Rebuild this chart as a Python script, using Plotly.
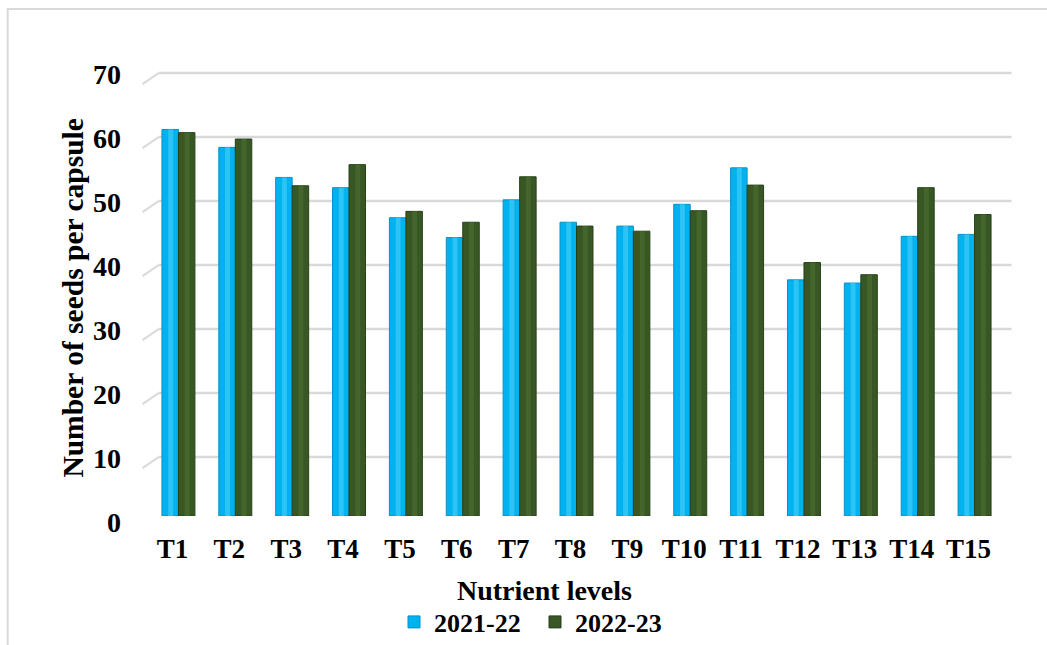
import plotly.graph_objects as go

# Nutrient treatments and seeds per capsule for the two seasons
treatments = ["T1", "T2", "T3", "T4", "T5", "T6", "T7", "T8",
              "T9", "T10", "T11", "T12", "T13", "T14", "T15"]
seeds_2021_22 = [60.4, 57.6, 52.9, 51.3, 46.6, 43.5, 49.4, 45.9,
                 45.3, 48.7, 54.4, 36.9, 36.4, 43.7, 44.0]
seeds_2022_23 = [59.9, 58.9, 51.6, 54.9, 47.6, 45.9, 53.0, 45.3,
                 44.5, 47.7, 51.7, 39.6, 37.7, 51.3, 47.1]
y_ticks = [0, 10, 20, 30, 40, 50, 60, 70]

BLUE = "#00B2EF"
BLUE_EDGE = "#0A8FC6"
BLUE_LIGHT = "#2CC3F5"
GREEN = "#385724"
GREEN_EDGE = "#26401A"
GREEN_LIGHT = "#44662D"
GRID = "#d9d9d9"
FONT = "Liberation Serif, Times New Roman, serif"

W, H = 1047, 645
# plot area in pixels: category slots span x 149.5..1003.5, value 0 at y=516
L, R, T, B = 149.5, 43.5, 68, 129
pw, ph = W - L - R, H - T - B


def px_x(x):
    return (x - L) / pw


def px_y(y):
    return (H - B - y) / ph


BW = 0.29  # width of one column, in category units

fig = go.Figure()

# main columns
fig.add_trace(go.Bar(
    x=treatments, y=seeds_2021_22, name="2021-22", offset=-BW, width=BW,
    marker=dict(color=BLUE, line=dict(color=BLUE_EDGE, width=1)),
))
fig.add_trace(go.Bar(
    x=treatments, y=seeds_2022_23, name="2022-23", offset=0, width=BW,
    marker=dict(color=GREEN, line=dict(color=GREEN_EDGE, width=1)),
))
# soft highlight down each column for a rounded look
fig.add_trace(go.Bar(
    x=treatments, y=seeds_2021_22, offset=-BW * 0.62, width=BW * 0.3,
    marker=dict(color=BLUE_LIGHT, line=dict(width=0)), showlegend=False,
    hoverinfo="skip",
))
fig.add_trace(go.Bar(
    x=treatments, y=seeds_2022_23, offset=BW * 0.38, width=BW * 0.3,
    marker=dict(color=GREEN_LIGHT, line=dict(width=0)), showlegend=False,
    hoverinfo="skip",
))

# back-wall gridlines and the perspective strokes toward the value labels
back_shift = 0.8   # back wall sits slightly above the front plane
depth = 1.72       # vertical drop from back wall to front edge
for v in y_ticks:
    fig.add_shape(type="line", xref="paper", yref="y",
                  x0=px_x(158), x1=px_x(1012), y0=v - back_shift, y1=v - back_shift,
                  line=dict(color=GRID, width=2.5), layer="below")
    fig.add_shape(type="line", xref="paper", yref="y",
                  x0=px_x(142), x1=px_x(158),
                  y0=v - back_shift - depth, y1=v - back_shift,
                  line=dict(color=GRID, width=2), layer="below")

# outer chart border
fig.add_shape(type="rect", xref="paper", yref="paper",
              x0=px_x(7), x1=px_x(1070), y0=px_y(670), y1=px_y(9),
              line=dict(color=GRID, width=2), layer="below")

# axis titles
fig.add_annotation(text="<b>Nutrient levels</b>", xref="paper", yref="paper",
                   x=px_x(544), y=px_y(590), xanchor="center", yanchor="middle",
                   showarrow=False,
                   font=dict(size=28, family=FONT, color="black"))
fig.add_annotation(text="<b>Number of seeds per capsule</b>", xref="paper", yref="paper",
                   x=px_x(72), y=px_y(298), xanchor="center", yanchor="middle",
                   showarrow=False, textangle=-90,
                   font=dict(size=29.5, family=FONT, color="black"))

fig.update_layout(
    width=W, height=H,
    margin=dict(l=L, r=R, t=T, b=B, autoexpand=False),
    paper_bgcolor="white", plot_bgcolor="white",
    barmode="overlay",
    font=dict(family=FONT, color="black"),
    showlegend=True,
    legend=dict(orientation="h", xref="container", yref="container",
                x=394 / W, xanchor="left", y=(H - 622) / H, yanchor="middle",
                font=dict(size=26, family=FONT, weight="bold"),
                itemwidth=30, entrywidth=96, entrywidthmode="pixels",
                bgcolor="rgba(0,0,0,0)"),
    xaxis=dict(
        range=[-0.5, 14.5], automargin=False,
        tickfont=dict(size=27, weight="bold"), showgrid=False, showline=False,
        ticks="", ticklabelshift=-6, ticklabelstandoff=14,
    ),
    yaxis=dict(
        range=[0, 70], tickvals=y_ticks, automargin=False,
        tickfont=dict(size=28, weight="bold"),
        showgrid=False, zeroline=False,
        showline=False, ticks="", ticklabelshift=6, ticklabelstandoff=28,
    ),
)

fig.write_html("out.html")
